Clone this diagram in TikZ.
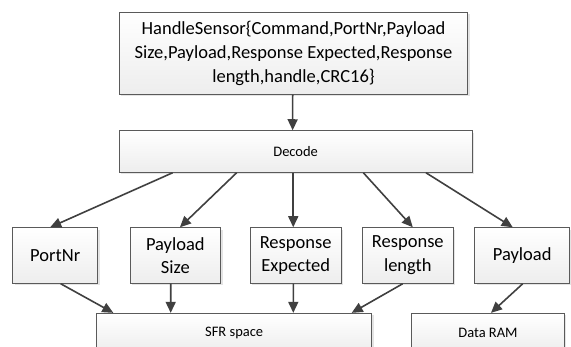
\documentclass[tikz,border=0pt]{standalone}
\usepackage{fontspec}
\setmainfont{Carlito}
\usetikzlibrary{arrows.meta,shadows}
\definecolor{edge}{HTML}{5A5A5A}
\definecolor{arr}{HTML}{404040}
\tikzset{
  box/.style={draw=edge, line width=0.9pt, top color=white, bottom color=gray!14,
    drop shadow={shadow xshift=2pt, shadow yshift=-2pt, fill=gray!35, opacity=0.6},
    inner sep=0pt, align=center, anchor=center},
  bigtext/.style={font=\fontsize{18.5}{23.7}\selectfont},
  smalltext/.style={font=\fontsize{14.5}{17}\selectfont},
  arrow/.style={draw=arr, line width=1.6pt, -{Triangle[length=11pt,width=10pt]}}
}
\begin{document}
\begin{tikzpicture}[x=1pt,y=-1pt]
\useasboundingbox (0,0) rectangle (571,347);
\clip (0,0) rectangle (571,347);
\node[box,bigtext,minimum width=348.4pt,minimum height=82pt] (top) at (293.5,53.3)
  {HandleSensor\{Command,PortNr,Payload\\Size,Payload,Response Expected,Response\\length,handle,CRC16\}};
\node[box,smalltext,minimum width=353.3pt,minimum height=41.6pt] (decode) at (295.65,151.5) {Decode};
\node[box,bigtext,minimum width=85pt,minimum height=55.6pt] (portnr) at (55.2,255.5) {PortNr};
\node[box,bigtext,minimum width=90.7pt,minimum height=55.6pt] (psize) at (175.35,255.5) {Payload\\Size};
\node[box,bigtext,minimum width=90.7pt,minimum height=55.6pt] (rexp) at (295.65,255.5) {Response\\Expected};
\node[box,bigtext,minimum width=91pt,minimum height=55.6pt] (rlen) at (407.8,255.5) {Response\\length};
\node[box,bigtext,minimum width=95pt,minimum height=55.6pt] (payload) at (522.2,255.5) {Payload};
\node[box,smalltext,minimum width=275pt,minimum height=39.7pt] (sfr) at (234.2,333.15) {SFR space};
\node[box,smalltext,minimum width=152.6pt,minimum height=39.7pt] (ram) at (488,333.15) {Data RAM};

\draw[arrow] ([xshift=-0.8pt]top.south) -- ([xshift=-3pt]decode.north);
\draw[arrow] ([xshift=-123pt]decode.south) -- ([xshift=-5pt]portnr.north);
\draw[arrow] ([xshift=-59pt]decode.south) -- ([xshift=4.6pt]psize.north);
\draw[arrow] ([xshift=-2.4pt]decode.south) -- ([xshift=-2.4pt]rexp.north);
\draw[arrow] ([xshift=67.7pt]decode.south) -- ([xshift=5pt]rlen.north);
\draw[arrow] ([xshift=130.3pt]decode.south) -- ([xshift=-9.5pt]payload.north);

\draw[arrow] ([xshift=5.5pt]portnr.south) -- ([xshift=-120.9pt]sfr.north);
\draw[arrow] ([xshift=-4.65pt]psize.south) -- ([xshift=-63.5pt]sfr.north);
\draw[arrow] ([xshift=-2.35pt]rexp.south) -- ([xshift=59.1pt]sfr.north);
\draw[arrow] ([xshift=-5.1pt]rlen.south) -- ([xshift=117.5pt]sfr.north);
\draw[arrow] ([xshift=0.5pt]payload.south) -- ([xshift=3pt]ram.north);
\end{tikzpicture}
\end{document}
